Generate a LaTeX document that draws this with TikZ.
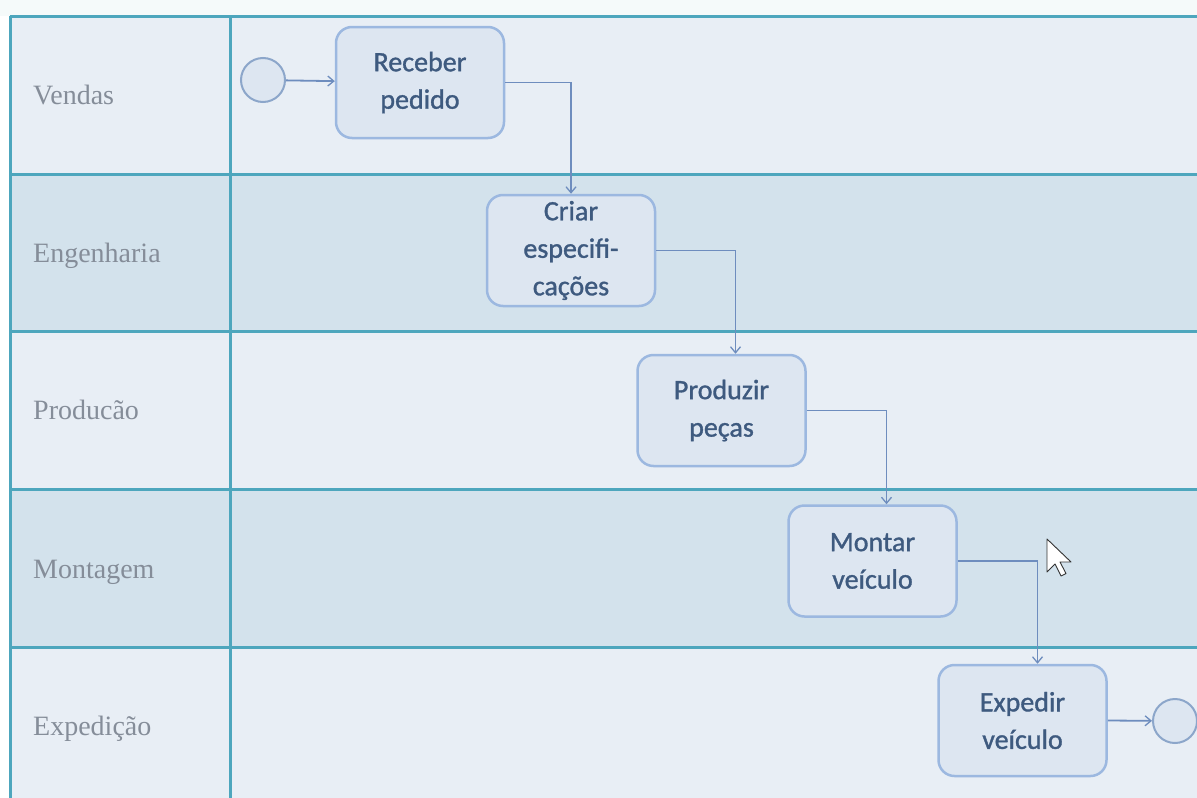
\documentclass[tikz,border=0pt]{standalone}
\usepackage{fontspec}
\setmainfont{Carlito}
\newfontfamily\taskfont[FakeBold=1.2]{Carlito}
\newfontfamily\lanefont{Liberation Serif}
\usetikzlibrary{arrows.meta}

\definecolor{laneA}{HTML}{E8EEF5}
\definecolor{laneB}{HTML}{D3E2EC}
\definecolor{topstrip}{HTML}{F5FAFA}
\definecolor{laneline}{HTML}{4DA6BD}
\definecolor{boxfill}{HTML}{DDE6F1}
\definecolor{boxline}{HTML}{9CB8E0}
\definecolor{flowline}{HTML}{6E8DBE}
\definecolor{boxtext}{HTML}{3E5A7F}
\definecolor{lanetext}{HTML}{858D99}

\tikzset{
  laneborder/.style={draw=laneline, line width=3pt},
  lanelabel/.style={anchor=base west, inner sep=0pt, text=lanetext,
    font=\lanefont\fontsize{28}{32}\selectfont},
  task/.style={draw=boxline, fill=boxfill, line width=2.5pt, rounded corners=16pt,
    minimum width=168pt, minimum height=111pt, inner sep=0pt, align=center,
    text=boxtext, font=\taskfont\fontsize{28}{37.5}\selectfont},
  event/.style={circle, draw=boxline!90!black, fill=boxfill, line width=2pt,
    minimum size=44pt, inner sep=0pt},
  flow/.style={draw=flowline, line width=1.8pt,
    -{Straight Barb[length=6pt,width=10pt,line width=1.3pt]}},
}

\begin{document}
\begin{tikzpicture}[x=1pt,y=-1pt]
\useasboundingbox (0,0) rectangle (1197,798);
\fill[topstrip] (0,0) rectangle (1197,16);

% lane backgrounds
\fill[laneA] (10,16)  rectangle (1197,174);
\fill[laneB] (10,174) rectangle (1197,331);
\fill[laneA] (10,331) rectangle (1197,489);
\fill[laneB] (10,489) rectangle (1197,647);
\fill[laneA] (10,647) rectangle (1197,798);

% lane borders
\foreach \yy in {16,174,331,489,647}
  \draw[laneborder] (10,\yy) -- (1197,\yy);
\draw[laneborder] (10,16) -- (10,798);
\draw[laneborder] (230,16) -- (230,798);

% lane titles
\node[lanelabel] (lven) at (33,104) {Vendas};
\node[lanelabel] (leng) at (33,262) {Engenharia};
\node[lanelabel] (lpro) at (33,419) {Producão};
\node[lanelabel] (lmon) at (33,578) {Montagem};
\node[lanelabel] (lexp) at (33,735) {Expedição};

% process
\node[event] (start) at (263,80) {};
\node[task] (rec) at (420,82.5) {Receber\\pedido};
\node[task] (cri) at (571,250.5) {Criar\\especifi-\\cações};
\node[task] (pro) at (721.5,410.5) {Produzir\\peças};
\node[task] (mon) at (872.5,561) {Montar\\veículo};
\node[task] (exp) at (1022.5,720.5) {Expedir\\veículo};
\node[event] (stop) at (1175,721) {};

\draw[flow] (start) -- (rec);
\draw[flow] (rec.east) -| (cri.north);
\draw[flow] (cri.east) -| ([xshift=14pt]pro.north);
\draw[flow] (pro.east) -| ([xshift=14pt]mon.north);
\draw[flow] (mon.east) -| ([xshift=15pt]exp.north);
\draw[flow] (exp.east) -- (stop);

% mouse pointer
\draw[fill=white, draw=black!80, line width=0.9pt, line join=round]
  (1047,539) -- ++(0,33) -- ++(8,-8) -- ++(6,12) -- ++(5,-2.5) -- ++(-6,-11.5) -- ++(11,0) -- cycle;
\end{tikzpicture}
\end{document}
